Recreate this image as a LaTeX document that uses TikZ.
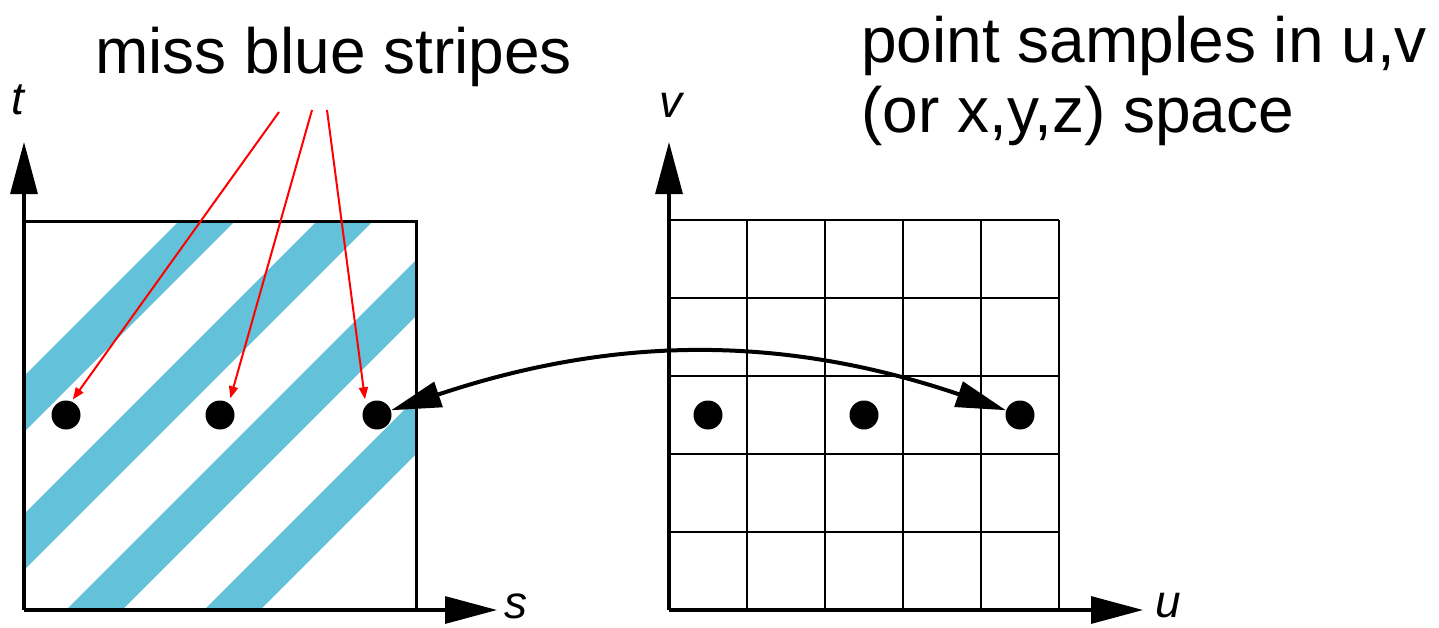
\documentclass[tikz,border=0pt]{standalone}
\usepackage{fontspec}
\setmainfont{Liberation Sans}
\usetikzlibrary{arrows.meta}
\definecolor{stripeblue}{RGB}{99,194,217}
\begin{document}
\begin{tikzpicture}[x=0.5pt,y=-0.5pt,
  dot/.style={circle,fill=black,inner sep=0pt,minimum size=14.5pt},
  axisline/.style={line width=1.6pt,-{Triangle[length=26pt,width=13.5pt]}},
  frame/.style={line width=1.5pt},
  gridline/.style={line width=0.9pt},
  redarrow/.style={red,line width=1pt,-{Triangle[length=6pt,width=4.5pt]}},
  maparrow/.style={line width=2pt,{Triangle[length=25pt,width=13pt]}-{Triangle[length=25pt,width=13pt]}},
  title/.style={font=\fontsize{32}{36}\selectfont,inner sep=0pt,anchor=base west},
  axlabel/.style={font=\fontsize{23}{27}\selectfont\itshape,inner sep=0pt}]
\useasboundingbox (0,0) rectangle (1439,627);
% stripes
\begin{scope}
\clip (24,221) rectangle (416,610);
\foreach \c in {400,538,676,814}{
  \fill[stripeblue] ({\c-100},100) -- ({\c+56-100},100) -- ({\c+56-700},700) -- ({\c-700},700) -- cycle;
}
\end{scope}
% left frame
\draw[frame] (24,221) -- (416,221) -- (416,610);
% left axes
\coordinate (O1) at (24,610);
\coordinate (T1) at (24,142);
\coordinate (S1) at (497,610);
\draw[axisline] (O1) -- (T1);
\draw[axisline] (O1) -- (S1);
\node[axlabel] (tl) at (18,100) {t};
\node[axlabel] (sl) at (516,606) {s};
% right grid
\foreach \gx in {747,825,903,981,1059}{
  \draw[gridline] (\gx,220) -- (\gx,610);
}
\foreach \gy in {220,298,376,454,532}{
  \draw[gridline] (669,\gy) -- (1059,\gy);
}
% right axes
\coordinate (O2) at (669,610);
\coordinate (T2) at (669,142);
\coordinate (S2) at (1143,610);
\draw[axisline] (O2) -- (T2);
\draw[axisline] (O2) -- (S2);
\node[axlabel] (vl) at (671,105) {v};
\node[axlabel] (ul) at (1168,606) {u};
% dots
\node[dot] (l1) at (66,415) {};
\node[dot] (l2) at (220,415) {};
\node[dot] (l3) at (377,415) {};
\node[dot] (r1) at (708,415) {};
\node[dot] (r2) at (864,415) {};
\node[dot] (r3) at (1020,415) {};
% mapping arrow
\draw[maparrow] (l3) .. controls (616,335) and (784,335) .. (r3);
% texts
\node[title] (miss) at (95,73) {miss blue stripes};
\node[title] (pts1) at (861,62) {point samples in u,v};
\node[title] (pts2) at (861,132) {(or x,y,z) space};
% red arrows
\coordinate (a1) at (279,112);
\coordinate (a2) at (312,110);
\coordinate (a3) at (327,110);
\draw[redarrow,shorten >=1pt] (a1) -- (l1.68);
\draw[redarrow,shorten >=2.5pt] (a2) -- (l2.53);
\draw[redarrow,shorten >=3pt] (a3) -- (l3.139);
\end{tikzpicture}
\end{document}
